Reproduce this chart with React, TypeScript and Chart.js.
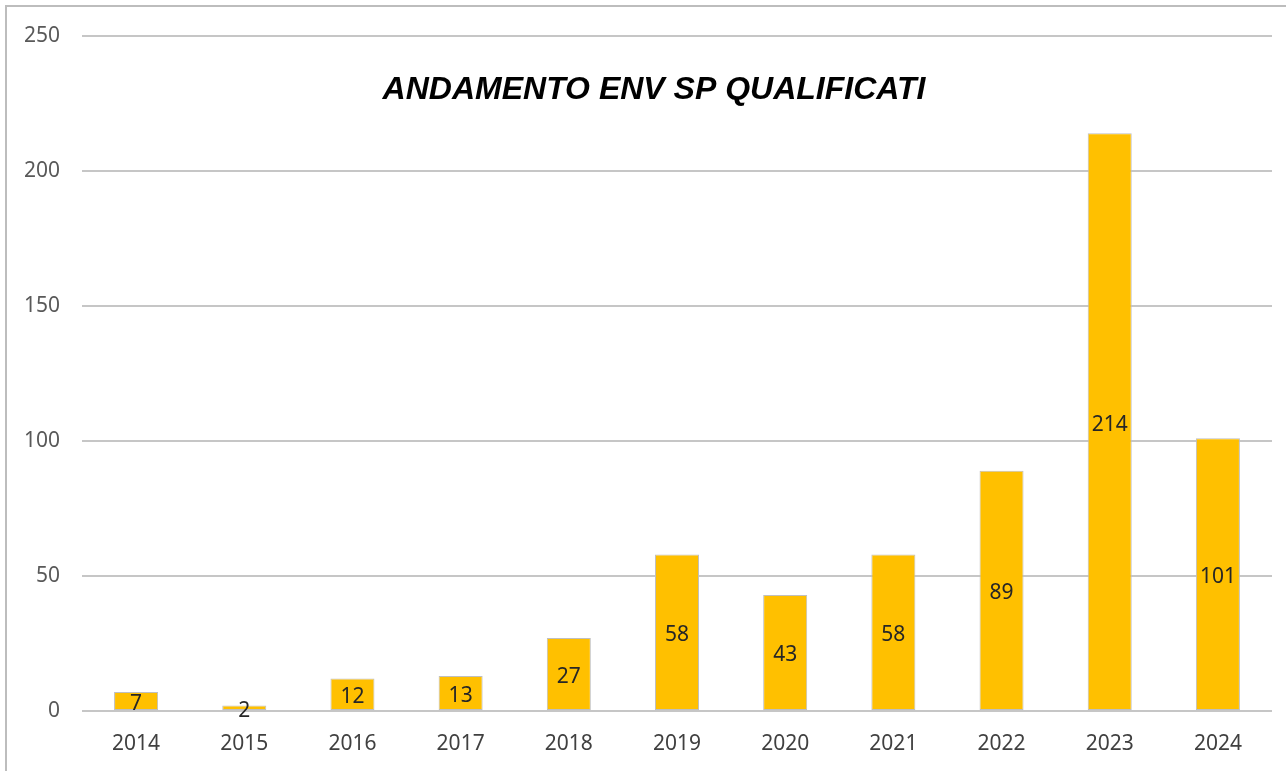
import React, { useEffect, useRef } from "react";
import { Chart, registerables } from "chart.js";

Chart.register(...registerables);

const categories = ["2014", "2015", "2016", "2017", "2018", "2019", "2020", "2021", "2022", "2023", "2024"];
const values = [7, 2, 12, 13, 27, 58, 43, 58, 89, 214, 101];
const chartTitle = "ANDAMENTO ENV SP QUALIFICATI";

const framePlugin = {
  id: "frame",
  beforeDraw(chart: any) {
    const ctx = chart.ctx;
    ctx.save();
    ctx.fillStyle = "#ffffff";
    ctx.fillRect(0, 0, chart.width, chart.height);
    ctx.strokeStyle = "#bdbdbd";
    ctx.lineWidth = 2;
    ctx.beginPath();
    ctx.moveTo(6, chart.height + 2);
    ctx.lineTo(6, 6);
    ctx.lineTo(chart.width + 2, 6);
    ctx.stroke();
    ctx.restore();
  },
};

const titlePlugin = {
  id: "customTitle",
  afterDraw(chart: any) {
    const ctx = chart.ctx;
    ctx.save();
    ctx.font = "italic bold 32px 'Liberation Sans', Arial, sans-serif";
    ctx.fillStyle = "#000000";
    ctx.textAlign = "center";
    ctx.textBaseline = "alphabetic";
    ctx.fillText(chartTitle, 654, 99);
    ctx.restore();
  },
};

const labelPlugin = {
  id: "barLabels",
  afterDatasetsDraw(chart: any) {
    const ctx = chart.ctx;
    const meta = chart.getDatasetMeta(0);
    ctx.save();
    ctx.font = "21px 'Noto Sans', sans-serif";
    ctx.fillStyle = "#262626";
    ctx.textAlign = "center";
    ctx.textBaseline = "middle";
    meta.data.forEach((bar: any, i: number) => {
      const y = (bar.y + bar.base) / 2 + 3;
      ctx.fillText(String(values[i]), bar.x, y);
    });
    ctx.restore();
  },
};

export default function App() {
  const ref = useRef<HTMLCanvasElement | null>(null);
  useEffect(() => {
    document.body.style.margin = "0";
    const canvas = ref.current!;
    const chart = new Chart(canvas, {
      type: "bar",
      data: {
        labels: categories,
        datasets: [
          {
            data: values,
            backgroundColor: "#FFC000",
            borderColor: "#bfbfbf",
            borderWidth: 1,
            borderSkipped: false,
            barPercentage: 0.407,
            categoryPercentage: 1,
          },
        ],
      },
      options: {
        animation: false,
        responsive: false,
        layout: { padding: { top: 36, right: 14, left: 0, bottom: 0 } },
        plugins: { legend: { display: false }, title: { display: false }, tooltip: { enabled: false } },
        scales: {
          x: {
            grid: { display: false, drawTicks: false },
            border: { display: false },
            ticks: { color: "#404040", font: { size: 21, family: "'Noto Sans', sans-serif" }, padding: 20 },
            afterFit: (s: any) => { s.height = 60; },
          },
          y: {
            min: 0,
            max: 250,
            ticks: { stepSize: 50, color: "#595959", font: { size: 21, family: "'Noto Sans', sans-serif" }, padding: 22 },
            grid: { color: "#c6c6c6", lineWidth: 2, drawTicks: false },
            border: { display: false },
            afterFit: (s: any) => { s.width = 82; },
          },
        },
      },
      plugins: [framePlugin, titlePlugin, labelPlugin],
    });
    return () => chart.destroy();
  }, []);
  return <canvas ref={ref} width={1286} height={771} style={{ display: "block" }} />;
}
